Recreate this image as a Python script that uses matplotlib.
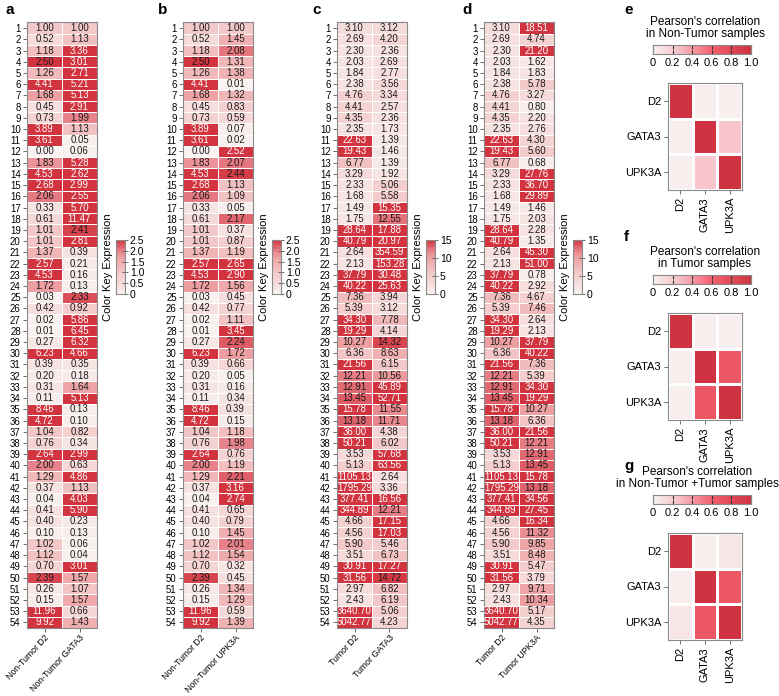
import numpy as np
import matplotlib
matplotlib.use("Agg")
import matplotlib.pyplot as plt
from matplotlib.colors import LinearSegmentedColormap

plt.rcParams['font.family'] = ['Liberation Sans', 'DejaVu Sans']

# ---- data ----
samples = [str(i) for i in range(1, 55)]

nt_d2 = [1.00, 0.52, 1.18, 2.50, 1.26, 4.41, 1.68, 0.45, 0.73, 3.89, 3.61, 0.00, 1.83, 4.53, 2.68,
         2.06, 0.33, 0.61, 1.01, 1.01, 1.37, 2.57, 4.53, 1.72, 0.03, 0.42, 0.02, 0.01, 0.27, 6.23,
         0.39, 0.20, 0.31, 0.11, 8.46, 4.72, 1.04, 0.76, 2.64, 2.00, 1.29, 0.37, 0.04, 0.41, 0.40,
         0.10, 1.02, 1.12, 0.70, 2.39, 0.26, 0.15, 11.96, 9.92]
nt_gata3 = [1.00, 1.13, 3.36, 3.01, 2.71, 5.21, 5.13, 2.91, 1.99, 1.13, 0.05, 0.06, 5.28, 2.62, 2.99,
            2.55, 5.70, 11.47, 2.41, 2.81, 0.39, 0.21, 0.16, 0.13, 2.33, 0.92, 5.86, 6.45, 6.32, 4.66,
            0.35, 0.18, 1.64, 5.13, 0.13, 0.10, 0.82, 0.34, 2.99, 0.63, 4.86, 1.13, 4.03, 5.90, 0.23,
            0.13, 0.06, 0.04, 3.01, 1.57, 1.07, 1.57, 0.66, 1.43]
nt_upk3a = [1.00, 1.45, 2.08, 1.31, 1.38, 0.01, 1.32, 0.83, 0.59, 0.07, 0.02, 2.52, 2.07, 2.44, 1.13,
            1.09, 0.05, 2.17, 0.37, 0.87, 1.19, 2.65, 2.90, 1.56, 0.45, 0.77, 1.11, 3.45, 2.24, 1.72,
            0.66, 0.05, 0.16, 0.34, 0.39, 0.15, 1.18, 1.98, 0.76, 1.19, 2.21, 3.16, 2.74, 0.65, 0.79,
            1.45, 2.01, 1.54, 0.32, 0.45, 1.34, 1.29, 0.59, 1.39]
t_d2 = [3.10, 2.69, 2.30, 2.03, 1.84, 2.38, 4.76, 4.41, 4.35, 2.35, 22.63, 19.43, 6.77, 3.29, 2.33,
        1.68, 1.49, 1.75, 28.64, 40.79, 2.64, 2.13, 37.79, 40.22, 7.36, 5.39, 34.30, 19.29, 10.27, 6.36,
        21.56, 12.21, 12.91, 13.45, 15.78, 13.18, 36.00, 50.21, 3.53, 5.13, 1105.13, 1795.29, 377.41,
        344.89, 4.66, 4.56, 5.90, 3.51, 30.91, 31.56, 2.97, 2.43, 3640.70, 5042.77]
t_gata3 = [3.12, 4.20, 2.36, 2.69, 2.77, 3.56, 3.34, 2.57, 2.36, 1.73, 1.39, 1.46, 1.39, 1.92, 5.06,
           5.58, 15.35, 12.55, 17.88, 20.97, 354.59, 153.28, 30.48, 25.63, 3.94, 3.12, 7.78, 4.14, 14.32,
           8.63, 6.15, 10.56, 45.89, 52.71, 11.55, 11.71, 4.38, 6.02, 57.68, 63.56, 2.64, 3.36, 16.56,
           12.21, 17.15, 17.03, 5.46, 6.73, 17.27, 14.72, 6.82, 6.19, 5.06, 4.23]
t_upk3a = [18.51, 4.74, 21.20, 1.62, 1.83, 5.78, 3.27, 0.80, 2.20, 2.76, 4.30, 5.60, 0.68, 27.76, 36.70,
           29.89, 1.46, 2.03, 2.28, 1.35, 45.30, 51.00, 0.78, 2.92, 4.67, 7.46, 2.64, 2.13, 37.79, 40.22,
           7.36, 5.39, 34.30, 19.29, 10.27, 6.36, 21.56, 12.21, 12.91, 13.45, 15.78, 13.18, 34.56, 27.45,
           16.34, 11.32, 9.85, 8.48, 5.47, 3.79, 9.71, 10.34, 5.17, 4.35]

genes = ['D2', 'GATA3', 'UPK3A']
corr_nt = [[1.00, 0.02, 0.02], [0.02, 1.00, 0.25], [0.02, 0.25, 1.00]]
corr_t = [[1.00, 0.02, 0.02], [0.02, 1.00, 0.68], [0.02, 0.68, 1.00]]
corr_all = [[1.00, 0.02, 0.07], [0.02, 1.00, 0.68], [0.07, 0.68, 1.00]]

# ---- styling ----
W, H = 779, 696
expr_cmap = LinearSegmentedColormap.from_list(
    'expr', [(0.0, '#f8f2f0'), (0.4, '#f3c8c8'), (0.67, '#eea3a5'),
             (0.8, '#e8828a'), (1.0, '#d2343f')])
corr_cmap = LinearSegmentedColormap.from_list(
    'corr', [(0.0, '#f8f2f0'), (0.25, '#f7c5cb'), (0.6, '#f4606f'),
             (1.0, '#cf3341')])
edge = '#8a8a8a'


def box(x0, y0, x1, y1):
    # pixel box -> figure rect
    return [x0 / W, 1 - y1 / H, (x1 - x0) / W, (y1 - y0) / H]


def style_spines(ax):
    for s in ax.spines.values():
        s.set_color(edge)
        s.set_linewidth(0.8)


def expr_panel(fig, x0, cols, names, vmax, cb_ticks, letter, letter_x):
    ax = fig.add_axes(box(x0, 22.5, x0 + 70, 628))
    data = np.array(cols).T
    ax.pcolormesh(data, cmap=expr_cmap, vmin=0, vmax=vmax,
                  edgecolors='white', linewidth=0.6)
    ax.set_xlim(0, 2)
    ax.set_ylim(len(samples), 0)
    for i in range(data.shape[0]):
        for j in range(data.shape[1]):
            v = data[i, j]
            ax.text(j + 0.5, i + 0.5, f'{v:.2f}', ha='center', va='center',
                    fontsize=6.9, color='white' if v > vmax else '#1a1a1a')
    ax.set_yticks(np.arange(len(samples)) + 0.5)
    ax.set_yticklabels(samples, fontsize=6.9)
    ax.set_xticks([0.5, 1.5])
    ax.set_xticklabels(names, rotation=47, ha='right', rotation_mode='anchor',
                       fontsize=6.3)
    ax.tick_params(length=3, width=0.6, color='#555555', pad=1.5)
    ax.tick_params(axis='x', pad=0.5)
    style_spines(ax)
    fig.text(letter_x / W, 1 - 10 / H, letter, fontsize=11, fontweight='bold',
             va='center')

    cb = fig.add_axes(box(x0 + 89, 240, x0 + 98, 294))
    cb.imshow(np.linspace(0, vmax, 256)[:, None], aspect='auto', origin='lower',
              extent=[0, 1, 0, vmax], cmap=expr_cmap)
    cb.set_xticks([])
    cb.yaxis.tick_right()
    cb.set_yticks(cb_ticks)
    cb.set_yticklabels([f'{t:g}' if t == 0 or vmax > 5 else f'{t:.1f}' for t in cb_ticks],
                       fontsize=7.5)
    cb.tick_params(axis='y', direction='inout', length=4, width=0.6, pad=1.5,
                   color='#555555')
    cb.set_ylabel('Color Key Expression', fontsize=8, labelpad=2)
    style_spines(cb)


def corr_panel(fig, y_top, mat, title, title_x, letter, letter_y):
    fig.text(title_x / W, 1 - (y_top + 28) / H, title, ha='center', va='center',
             fontsize=8.5, linespacing=1.0)
    cb = fig.add_axes(box(653, y_top + 45, 751, y_top + 54))
    cb.imshow(np.linspace(0, 1, 256)[None, :], aspect='auto', extent=[0, 1, 0, 1],
              cmap=corr_cmap)
    cb.set_yticks([])
    ticks = [0, 0.2, 0.4, 0.6, 0.8, 1.0]
    cb.set_xticks(ticks)
    cb.set_xticklabels(['0', '0.2', '0.4', '0.6', '0.8', '1.0'], fontsize=8)
    cb.tick_params(axis='x', direction='in', length=3, width=0.8, pad=3,
                   color='#333333', top=True)
    style_spines(cb)

    ax = fig.add_axes(box(668, y_top + 83, 742, y_top + 190))
    ax.pcolormesh(np.array(mat), cmap=corr_cmap, vmin=0, vmax=1,
                  edgecolors='white', linewidth=1.0)
    ax.set_xlim(0, 3)
    ax.set_ylim(3, 0)
    ax.set_xticks(np.arange(3) + 0.5)
    ax.set_xticklabels(genes, rotation=90, fontsize=8)
    ax.set_yticks(np.arange(3) + 0.5)
    ax.set_yticklabels(genes, fontsize=8)
    ax.tick_params(length=3, width=0.6, color='#555555', pad=2)
    style_spines(ax)
    fig.text(624 / W, 1 - letter_y / H, letter, fontsize=11,
             fontweight='bold', va='center')


fig = plt.figure(figsize=(W / 100, H / 100), dpi=100)

expr_panel(fig, 27, [nt_d2, nt_gata3], ['Non-Tumor D2', 'Non-Tumor GATA3'],
           2.5, [0, 0.5, 1.0, 1.5, 2.0, 2.5], 'a', 5)
expr_panel(fig, 183, [nt_d2, nt_upk3a], ['Non-Tumor D2', 'Non-Tumor UPK3A'],
           2.5, [0, 0.5, 1.0, 1.5, 2.0, 2.5], 'b', 158)
expr_panel(fig, 337, [t_d2, t_gata3], ['Tumor D2', 'Tumor GATA3'],
           15, [0, 5, 10, 15], 'c', 312)
expr_panel(fig, 484, [t_d2, t_upk3a], ['Tumor D2', 'Tumor UPK3A'],
           15, [0, 5, 10, 15], 'd', 462)

corr_panel(fig, 0, corr_nt, "Pearson's correlation\nin Non-Tumor samples", 705, 'e', 10)
corr_panel(fig, 230, corr_t, "Pearson's correlation\nin Tumor samples", 705, 'f', 237)
corr_panel(fig, 450, corr_all, "Pearson's correlation\nin Non-Tumor +Tumor samples", 697, 'g', 466)

fig.savefig('out.png', dpi=100)
